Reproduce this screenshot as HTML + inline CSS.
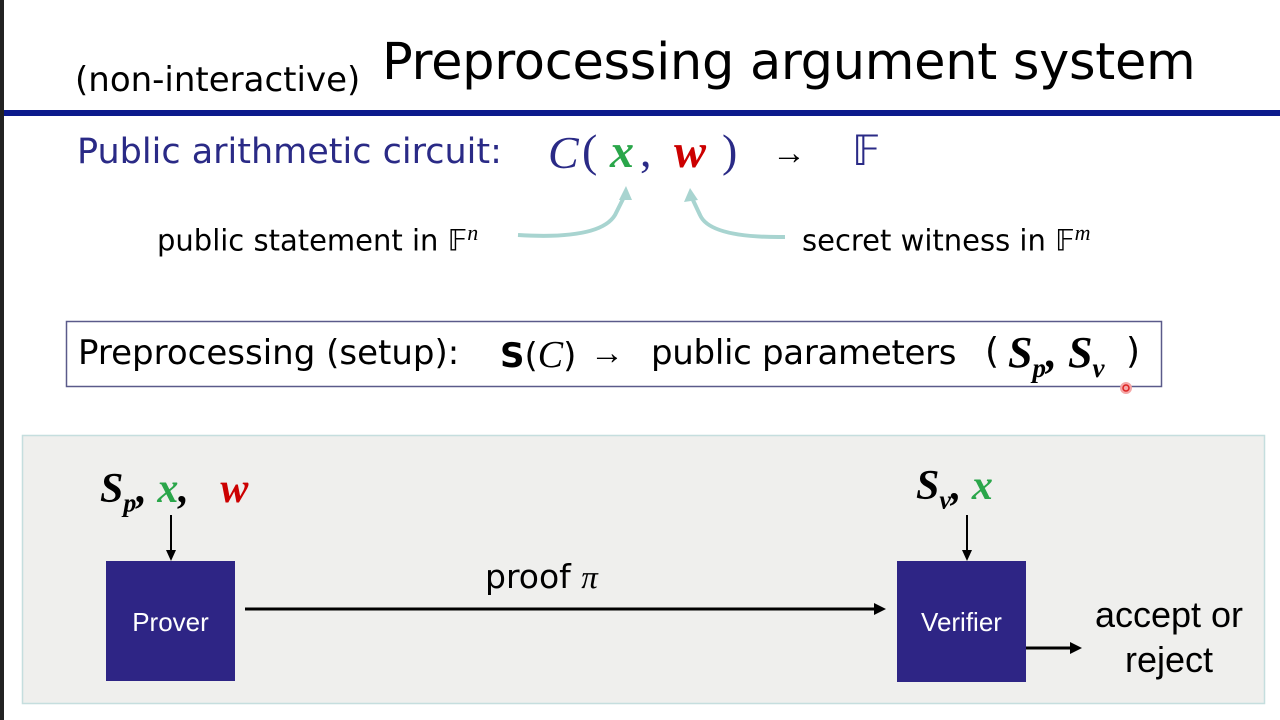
<!DOCTYPE html>
<html><head><meta charset="utf-8"><style>
body{margin:0;width:1280px;height:720px;background:#fff;position:relative;overflow:hidden;font-family:"Liberation Sans",sans-serif}
.a{position:absolute;white-space:nowrap}
.m{font-family:"Liberation Serif",serif;font-style:italic;font-weight:bold}
.c{font-family:"DejaVu Sans","Liberation Sans",sans-serif}
</style></head><body>
<div class="a" style="left:0;top:0;width:4px;height:720px;background:#222"></div>
<div class="a" style="left:4px;top:110px;width:1276px;height:6px;background:#0c1a8c"></div>
<div class="a c" style="left:75px;top:60px;font-size:34px;color:#000">(non-interactive)</div>
<div class="a c" style="left:382px;top:33px;font-size:51px;color:#000;letter-spacing:-0.3px">Preprocessing argument system</div>
<div class="a c" style="left:77px;top:132px;font-size:35px;color:#2a2a86">Public arithmetic circuit:</div>
<div class="a" style="left:548px;top:126px;font-size:46px;color:#2a2a86;font-family:'Liberation Serif',serif"><i>C</i></div>
<div class="a" style="left:582px;top:124px;font-size:46px;color:#2a2a86;font-family:'Liberation Serif',serif">(</div>
<div class="a m" style="left:610px;top:124px;font-size:48px;color:#2aa64a">x</div>
<div class="a" style="left:640px;top:124px;font-size:46px;color:#2a2a86;font-family:'Liberation Serif',serif">,</div>
<div class="a m" style="left:674px;top:124px;font-size:48px;color:#c00">w</div>
<div class="a" style="left:722px;top:124px;font-size:46px;color:#2a2a86;font-family:'Liberation Serif',serif">)</div>
<div class="a" style="left:772px;top:134px;font-size:34px;color:#000">→</div>
<div class="a" style="left:852px;top:126px;font-size:42px;color:#2a2a86;font-family:'DejaVu Sans'">𝔽</div>
<div class="a c" style="left:157px;top:220px;font-size:29px;color:#000">public statement in 𝔽<sup style="font-size:22px;font-family:'Liberation Serif';font-style:italic">n</sup></div>
<div class="a c" style="left:802px;top:220px;font-size:29px;color:#000">secret witness in 𝔽<sup style="font-size:22px;font-family:'Liberation Serif';font-style:italic">m</sup></div>
<svg class="a" style="left:0;top:0" width="1280" height="720">
<path d="M518 235 Q600 240 615 215 L625 195" fill="none" stroke="#a8d4d0" stroke-width="4"/>
<polygon points="626,186 619,200 632,200" fill="#a8d4d0"/>
<path d="M785 237 Q710 238 700 215 L692 198" fill="none" stroke="#a8d4d0" stroke-width="4"/>
<polygon points="690,188 684,202 698,200" fill="#a8d4d0"/>
<rect x="66.5" y="321.5" width="1095" height="65" fill="#fff" stroke="#5a5a8a" stroke-width="1.5"/>
<rect x="22.5" y="435.5" width="1242" height="268" fill="#efefed" stroke="#c5dede" stroke-width="1.5"/>
<rect x="106" y="561" width="129" height="120" fill="#2e2585"/>
<rect x="897" y="561" width="129" height="121" fill="#2e2585"/>
<line x1="171" y1="515" x2="171" y2="552" stroke="#000" stroke-width="2"/>
<polygon points="166,550 176,550 171,561" fill="#000"/>
<line x1="967" y1="515" x2="967" y2="552" stroke="#000" stroke-width="2"/>
<polygon points="962,550 972,550 967,561" fill="#000"/>
<line x1="245" y1="609" x2="876" y2="609" stroke="#000" stroke-width="3"/>
<polygon points="874,603 886,609 874,615" fill="#000"/>
<line x1="1026" y1="648" x2="1072" y2="648" stroke="#000" stroke-width="3"/>
<polygon points="1070,642 1082,648 1070,654" fill="#000"/>
<circle cx="1126" cy="388" r="6" fill="#f4a6a6"/>
<circle cx="1126" cy="388" r="3" fill="none" stroke="#d22" stroke-width="1.5"/>
</svg>
<div class="a c" style="left:78px;top:333px;font-size:34px;color:#000">Preprocessing (setup):</div>
<div class="a c" style="left:500px;top:333px;font-size:34px;color:#000"><b>S</b>(<i style="font-family:'Liberation Serif';font-size:38px">C</i>)</div>
<div class="a" style="left:590px;top:334px;font-size:34px;color:#000">→</div>
<div class="a c" style="left:651px;top:333px;font-size:34px;color:#000;letter-spacing:-0.3px">public parameters</div>
<div class="a c" style="left:985px;top:331px;font-size:36px;color:#000">(</div>
<div class="a m" style="left:1008px;top:327px;font-size:44px;color:#000">S<sub style="font-size:27px">p</sub>, S<sub style="font-size:27px">v</sub></div>
<div class="a c" style="left:1126px;top:331px;font-size:36px;color:#000">)</div>
<div class="a m" style="left:100px;top:465px;font-size:42px;color:#000">S<sub style="font-size:26px">p</sub>, <span style="color:#2aa64a">x</span>,&nbsp;&nbsp; <span style="color:#c00">w</span></div>
<div class="a m" style="left:916px;top:462px;font-size:42px;color:#000">S<sub style="font-size:26px">v</sub>, <span style="color:#2aa64a">x</span></div>
<div class="a" style="left:106px;top:607px;width:129px;text-align:center;color:#fff;font-size:26px">Prover</div>
<div class="a" style="left:897px;top:607px;width:129px;text-align:center;color:#fff;font-size:26px">Verifier</div>
<div class="a c" style="left:485px;top:557px;font-size:33px;color:#000">proof <i style="font-family:'Liberation Serif'">π</i></div>
<div class="a" style="left:1086px;top:592px;width:166px;text-align:center;font-size:36px;line-height:45px;color:#000">accept or<br>reject</div>
</body></html>
